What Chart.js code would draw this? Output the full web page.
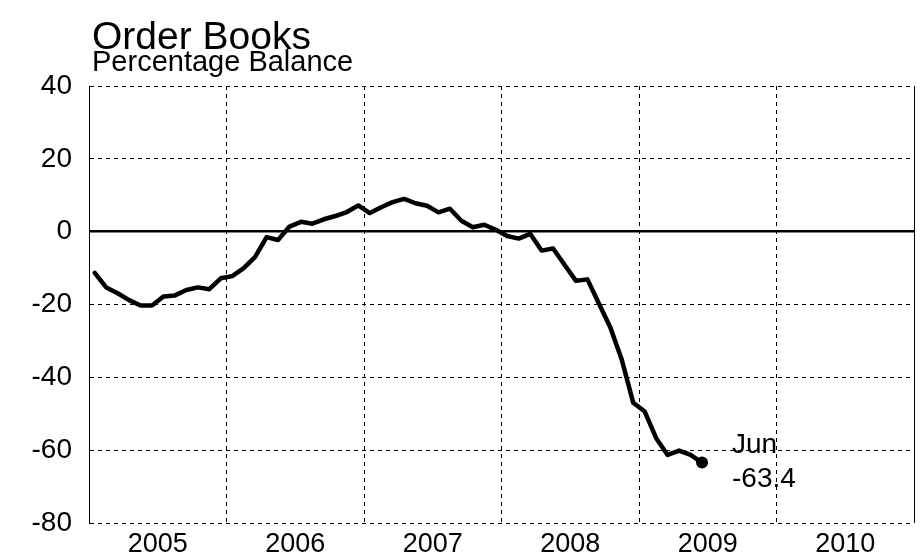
<!DOCTYPE html>
<html>
<head>
<meta charset="utf-8">
<script src="https://cdn.jsdelivr.net/npm/chart.js@4.4.1/dist/chart.umd.min.js"></script>
<style>
  html, body { margin: 0; padding: 0; background: #fff; }
  #wrap { width: 920px; height: 560px; position: relative; }
</style>
</head>
<body>
<div id="wrap"><canvas id="c" width="920" height="560"></canvas></div>
<script>
// ---- data ----
const titleText = 'Order Books';
const subtitleText = 'Percentage Balance';
const yearLabels = ['2005', '2006', '2007', '2008', '2009', '2010'];
const monthNames = ['Jan','Feb','Mar','Apr','May','Jun','Jul','Aug','Sep','Oct','Nov','Dec'];
const startYear = 2005;
const yTicks = [-80, -60, -40, -20, 0, 20, 40];
const values2005 = [-11.3, -15.3, -16.9, -18.8, -20.3, -20.3, -17.8, -17.5, -16.0, -15.3, -15.8, -12.8];
const values2006 = [-12.2, -10.0, -6.9, -1.5, -2.3, 1.4, 2.7, 2.2, 3.4, 4.3, 5.4, 7.2];
const values2007 = [5.1, 6.7, 8.1, 9.0, 7.8, 7.1, 5.3, 6.3, 3.0, 1.2, 1.9, 0.5];
const values2008 = [-1.2, -1.9, -0.6, -5.2, -4.6, -9.1, -13.5, -13.1, -19.7, -26.3, -35.2, -47.0];
const values2009 = [-49.4, -56.7, -61.3, -60.1, -61.3, -63.4];

const values = [].concat(values2005, values2006, values2007, values2008, values2009);
const points = values.map((v, i) => ({ x: i + 0.5, y: v }));
const lastIdx = values.length - 1;
const lastLabel = monthNames[lastIdx % 12];
const lastValue = values[lastIdx].toFixed(1);

const FONT = "'Liberation Sans', Arial, Helvetica, sans-serif";
const totalMonths = yearLabels.length * 12;

const titlePlugin = {
  id: 'titles',
  afterDraw(chart) {
    const ctx = chart.ctx;
    const left = chart.chartArea.left + 3;
    ctx.save();
    ctx.fillStyle = '#000';
    ctx.textAlign = 'left';
    ctx.textBaseline = 'alphabetic';
    ctx.font = '39px ' + FONT;
    ctx.fillText(titleText, left, 49);
    ctx.font = '29px ' + FONT;
    ctx.fillText(subtitleText, left, 71);
    ctx.restore();
  }
};

const annotPlugin = {
  id: 'annot',
  afterDatasetsDraw(chart) {
    const el = chart.getDatasetMeta(0).data[lastIdx];
    if (!el) return;
    const ctx = chart.ctx;
    ctx.save();
    ctx.fillStyle = '#000';
    ctx.font = '28px ' + FONT;
    ctx.textAlign = 'left';
    ctx.textBaseline = 'middle';
    ctx.fillText(lastLabel, el.x + 30, el.y - 17);
    ctx.fillText(lastValue, el.x + 30, el.y + 17);
    ctx.restore();
  }
};

new Chart(document.getElementById('c'), {
  type: 'line',
  data: {
    datasets: [{
      data: points,
      borderColor: '#000',
      backgroundColor: '#000',
      borderWidth: 4.5,
      tension: 0,
      borderJoinStyle: 'round',
      borderCapStyle: 'round',
      pointRadius: (c) => c.dataIndex === lastIdx ? 6 : 0,
      pointHoverRadius: 0,
      pointBackgroundColor: '#000',
      pointBorderColor: '#000',
      pointBorderWidth: 0
    }]
  },
  options: {
    responsive: false,
    animation: false,
    devicePixelRatio: 1,
    layout: { padding: { top: 86, right: 6, left: 0, bottom: 0 } },
    plugins: { legend: { display: false }, tooltip: { enabled: false }, title: { display: false } },
    events: [],
    scales: {
      x: {
        type: 'linear',
        min: 0,
        max: totalMonths,
        afterFit(s) { s.height = 37; },
        ticks: {
          stepSize: 6,
          autoSkip: false,
          maxRotation: 0,
          padding: 5,
          color: '#000',
          font: { family: FONT, size: 27 },
          callback: (v) => (v % 12 === 6) ? yearLabels[(v - 6) / 12] : ''
        },
        grid: {
          drawTicks: false,
          color: (c) => {
            const v = c.tick ? c.tick.value : null;
            if (v === null || v === 0) return 'rgba(0,0,0,0)';
            return (v % 12 === 0) ? '#000' : 'rgba(0,0,0,0)';
          },
          lineWidth: 1
        },
        border: {
          display: false,
          dash: (c) => (c.tick && c.tick.value === totalMonths) ? [] : [4, 4]
        }
      },
      y: {
        min: -80,
        max: 40,
        afterFit(s) { s.width = 89; },
        afterBuildTicks(s) { s.ticks = yTicks.map(v => ({ value: v })); },
        ticks: {
          padding: 17,
          color: '#000',
          font: { family: FONT, size: 28 },
          callback: (v) => String(v)
        },
        grid: {
          drawTicks: false,
          color: '#000',
          lineWidth: (c) => (c.tick && c.tick.value === 0) ? 2.5 : 1
        },
        border: {
          display: true,
          color: '#000',
          width: 1,
          dash: (c) => (c.tick && c.tick.value === 0) ? [] : [4, 4]
        }
      }
    }
  },
  plugins: [titlePlugin, annotPlugin]
});
</script>
</body>
</html>
